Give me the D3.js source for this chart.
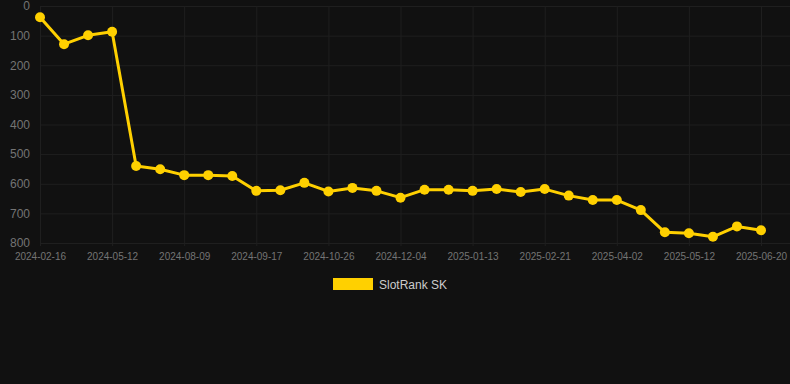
<!DOCTYPE html>
<html>
<head>
<meta charset="utf-8">
<script src="https://cdn.jsdelivr.net/npm/d3@7"></script>
<style>
  html, body { margin: 0; padding: 0; background: #111111; }
  svg { display: block; font-family: "Liberation Sans", Arial, sans-serif; }
</style>
</head>
<body>
<div id="chart"></div>
<script>
// data
const dates = [
  "2024-02-16", "2024-03-15", "2024-04-13", "2024-05-12", "2024-06-11", "2024-07-10",
  "2024-08-09", "2024-08-22", "2024-09-04", "2024-09-17", "2024-09-30", "2024-10-13",
  "2024-10-26", "2024-11-08", "2024-11-21", "2024-12-04", "2024-12-17", "2024-12-30",
  "2025-01-13", "2025-01-26", "2025-02-08", "2025-02-21", "2025-03-06", "2025-03-19",
  "2025-04-02", "2025-04-15", "2025-04-28", "2025-05-12", "2025-05-25", "2025-06-07",
  "2025-06-20"
];
const ranks = [
  38, 129, 99, 87, 540, 551, 571, 571, 574, 624, 622, 597,
  626, 614, 624, 647, 620, 620, 624, 618, 628, 618, 640, 655,
  655, 689, 764, 767, 779, 744, 757
];
const yTicks = [0, 100, 200, 300, 400, 500, 600, 700, 800];
const seriesName = "SlotRank SK";

const W = 790, H = 384;
const gold = "#ffd000";
const gridColor = "#1f1f1f";

const svg = d3.select("#chart").append("svg")
  .attr("width", W)
  .attr("height", H);

svg.append("rect").attr("width", W).attr("height", H).attr("fill", "#111111");

// scales
const x = d3.scalePoint().domain(dates).range([40, 761]);
const y = d3.scaleLinear().domain([0, 800]).range([6, 243]);

// horizontal grid + y labels
const yAxis = svg.append("g")
  .attr("transform", "translate(40,0)")
  .call(d3.axisLeft(y).tickValues(yTicks).tickSize(6).tickPadding(4));
yAxis.select(".domain").remove();
yAxis.selectAll(".tick line")
  .attr("x1", 0).attr("x2", 750)
  .attr("stroke", gridColor);
yAxis.selectAll(".tick text")
  .attr("fill", "#747474")
  .attr("font-size", "12px")
  .attr("font-family", "Liberation Sans, Arial, sans-serif");

// vertical grid + x labels (every 3rd date shown)
const shown = dates.filter((d, i) => i % 3 === 0);
const xAxis = svg.append("g")
  .attr("transform", "translate(0,243)")
  .call(d3.axisBottom(x).tickValues(shown).tickSize(5).tickPadding(5));
xAxis.select(".domain").remove();
xAxis.selectAll(".tick line")
  .attr("y1", -237).attr("y2", 3)
  .attr("stroke", gridColor);
xAxis.selectAll(".tick text")
  .attr("fill", "#747474")
  .attr("font-size", "10px")
  .attr("font-family", "Liberation Sans, Arial, sans-serif");

// line
const line = d3.line()
  .x((d, i) => x(dates[i]))
  .y(d => y(d));

svg.append("path")
  .datum(ranks)
  .attr("fill", "none")
  .attr("stroke", gold)
  .attr("stroke-width", 3)
  .attr("stroke-linejoin", "round")
  .attr("d", line);

svg.append("g")
  .selectAll("circle")
  .data(ranks)
  .enter().append("circle")
  .attr("cx", (d, i) => x(dates[i]))
  .attr("cy", d => y(d))
  .attr("r", 5)
  .attr("fill", gold);

// legend
const legend = svg.append("g").attr("transform", "translate(333,278)");
legend.append("rect")
  .attr("width", 40).attr("height", 12)
  .attr("fill", gold);
legend.append("text")
  .attr("x", 46).attr("y", 10.5)
  .attr("fill", "#cccccc")
  .attr("font-size", "12px")
  .text(seriesName);
</script>
</body>
</html>
